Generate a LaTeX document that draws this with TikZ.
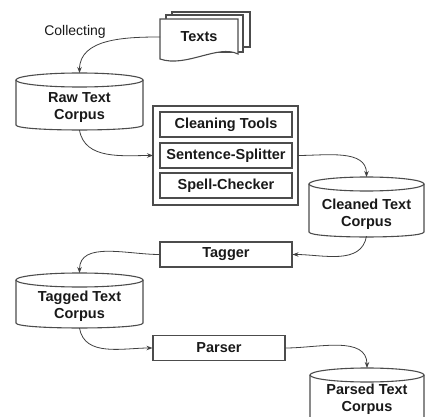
\documentclass[tikz,border=0pt]{standalone}
\usepackage{fontspec}
\setmainfont{Liberation Sans}
\usetikzlibrary{arrows.meta}
\newcommand\drawcyl[6]{%
  \draw[shapeline] (#1,#3) -- (#1,#5) .. controls (#1,{#5+1.33*#6}) and (#2,{#5+1.33*#6}) .. (#2,#5) -- (#2,#3);
  \draw[shapeline] ({(#1+#2)/2},#3) ellipse ({(#2-#1)/2} and #4);
}
\begin{document}
\begin{tikzpicture}[x=1pt,y=-1pt,
  shapeline/.style={draw=black!70,line width=1.1pt},
  lbl/.style={font=\fontsize{14.5}{17}\selectfont\bfseries,text=black!90,align=center,inner sep=0pt},
  boxnode/.style={shapeline,rectangle,minimum width=132pt,minimum height=25pt,inner sep=0pt,font=\fontsize{14.5}{17}\selectfont\bfseries,text=black!90},
  cyltext/.style={lbl,minimum height=44pt,minimum width=10pt},
  conn/.style={draw=black!75,line width=0.8pt,-{Stealth[length=6pt,width=4.5pt]}}
]
\useasboundingbox (0,0) rectangle (426,417);
% Texts document stack
\draw[shapeline,fill=white] (172,12) rectangle (250,47);
\draw[shapeline,fill=white] (166,15) rectangle (243,52);
\draw[shapeline,fill=white] (160,19) -- (238,19) -- (238,54) .. controls (218,44) and (186,68) .. (160,59) -- cycle;
\node[lbl] (texts) at (199,37) {Texts};
\coordinate (textsw) at (160,37);
\node[font=\fontsize{14}{16}\selectfont,text=black!90,inner sep=0pt] (collecting) at (75,32) {Collecting};
% Raw text corpus
\drawcyl{16}{143}{80}{7}{125}{5}
\node[cyltext] (raw) at (79.5,108) {Raw Text\\Corpus};
\coordinate (rawtop) at (79.5,73);
% Cleaning tools group
\draw[shapeline] (153,106) rectangle (298,205);
\coordinate (groupeast) at (298,155.5);
\coordinate (groupwest) at (153,155.5);
\node[boxnode] (clean) at (226,124.5) {Cleaning Tools};
\node[boxnode] (split) at (226,155.5) {Sentence-Splitter};
\node[boxnode] (spell) at (226,185.5) {Spell-Checker};
% Cleaned text corpus
\drawcyl{309}{424}{184}{7}{232}{5}
\node[cyltext] (cleaned) at (366.5,214) {Cleaned Text\\Corpus};
\coordinate (cleanedtop) at (366.5,177);
% Tagger
\node[boxnode] (tagger) at (226,254.5) {Tagger};
% Tagged text corpus
\drawcyl{16}{143}{280}{7}{323}{5}
\node[cyltext] (tagged) at (79.5,306) {Tagged Text\\Corpus};
\coordinate (taggedtop) at (79.5,273);
% Parser
\node[boxnode] (parser) at (219,348) {Parser};
% Parsed text corpus
\drawcyl{310}{424}{375}{7}{425}{5}
\node[cyltext] (parsed) at (367,399) {Parsed Text\\Corpus};
\coordinate (parsedtop) at (367,368);
% connectors
\draw[conn] (textsw) to[out=180,in=90] (rawtop);
\draw[conn] (raw.south) to[out=-80,in=180] (groupwest);
\draw[conn] (groupeast) to[out=0,in=90] (cleanedtop);
\draw[conn] (cleaned.south) to[out=-100,in=0] (tagger.east);
\draw[conn] (tagger.west) to[out=180,in=90] (taggedtop);
\draw[conn] (tagged.south) to[out=-80,in=180] (parser.west);
\draw[conn] (parser.east) to[out=0,in=90] (parsedtop);
\end{tikzpicture}
\end{document}
